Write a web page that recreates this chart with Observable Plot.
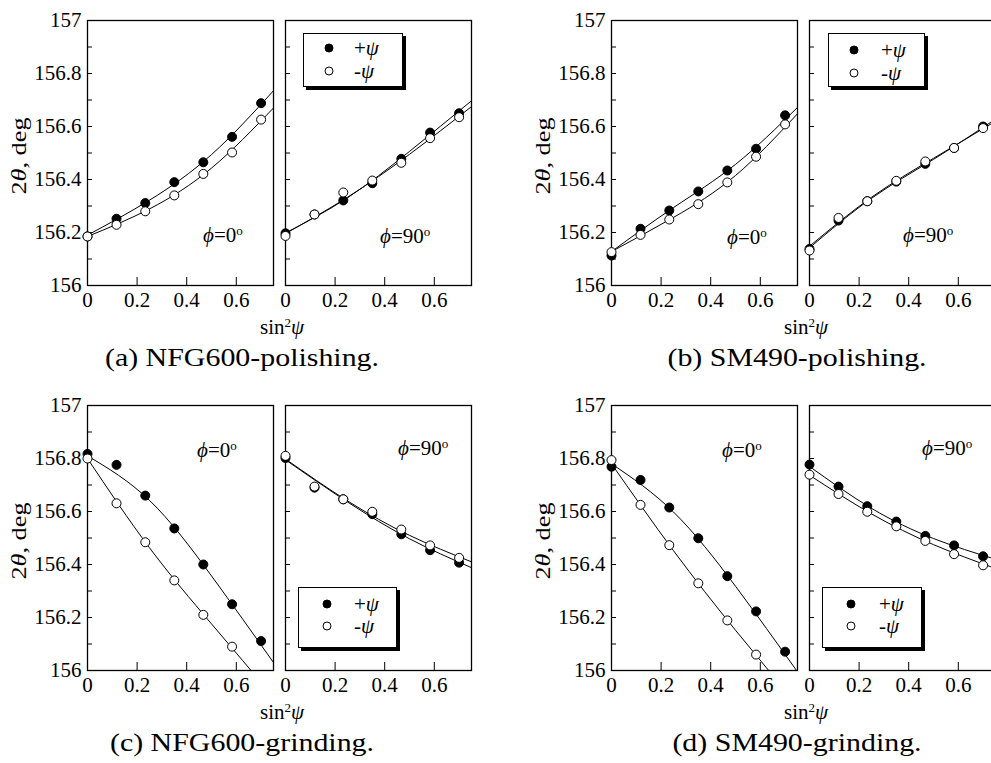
<!DOCTYPE html>
<html><head><meta charset="utf-8">
<script src="https://cdn.jsdelivr.net/npm/d3@7"></script>
<script src="https://cdn.jsdelivr.net/npm/@observablehq/plot@0.6"></script>
<style>
html,body{margin:0;padding:0;background:#fff;overflow:hidden}
#root{position:relative;width:991px;height:763px;overflow:hidden;font-family:"Liberation Serif","Times New Roman",serif;color:#000;background:#fff}
.abs{position:absolute}
.abs svg{max-width:none !important}
.t{position:absolute;white-space:nowrap;line-height:1}
.t sup{font-size:0.62em;vertical-align:0.55em;line-height:0}
.legend{position:absolute;border:1px solid #000;background:#fff;box-shadow:3px 3px 0 #000;box-sizing:border-box}
.legend .c{position:absolute;width:9px;height:9px;border-radius:50%;border:1px solid #000;box-sizing:border-box;transform:translate(-50%,-50%)}
.legend .lt{position:absolute;font-size:21px;line-height:1;transform:translateY(-50%);white-space:nowrap}
</style>
</head><body><div id="root"></div>
<script>
// ---- data ----
const sin2psi = [0, 0.117, 0.233, 0.35, 0.467, 0.583, 0.7];
const fitX = [0, 0.25, 0.5, 0.75];
const xTickVals = [0, 0.2, 0.4, 0.6];
const yTickVals = [156, 156.2, 156.4, 156.6, 156.8, 157];
const yMinorVals = [156.1, 156.2, 156.3, 156.4, 156.5, 156.6, 156.7, 156.8, 156.9];

// (a) NFG600-polishing
const a0Plus   = [156.185, 156.252, 156.311, 156.390, 156.465, 156.561, 156.688];
const a0Minus  = [156.185, 156.229, 156.280, 156.340, 156.421, 156.502, 156.626];
const a0PlusFit  = [156.190, 156.322, 156.494, 156.735];
const a0MinusFit = [156.185, 156.289, 156.443, 156.670];
const a90Plus  = [156.197, 156.268, 156.321, 156.386, 156.478, 156.577, 156.650];
const a90Minus = [156.187, 156.268, 156.351, 156.396, 156.463, 156.556, 156.635];
const a90PlusFit  = [156.198, 156.331, 156.506, 156.697];
const a90MinusFit = [156.196, 156.333, 156.495, 156.675];

// (b) SM490-polishing
const b0Plus   = [156.113, 156.214, 156.283, 156.355, 156.434, 156.516, 156.642];
const b0Minus  = [156.126, 156.191, 156.249, 156.307, 156.389, 156.486, 156.608];
const b0PlusFit  = [156.128, 156.294, 156.457, 156.672];
const b0MinusFit = [156.128, 156.257, 156.415, 156.648];
const b90Plus  = [156.138, 156.245, 156.318, 156.392, 156.459, 156.519, 156.600];
const b90Minus = [156.132, 156.255, 156.318, 156.395, 156.468, 156.519, 156.594];
const b90PlusFit  = [156.142, 156.329, 156.476, 156.628];
const b90MinusFit = [156.148, 156.333, 156.480, 156.620];

// (c) NFG600-grinding
const c0Plus   = [156.817, 156.776, 156.660, 156.536, 156.400, 156.250, 156.111];
const c0Minus  = [156.800, 156.631, 156.484, 156.340, 156.210, 156.090];
const c0PlusFit  = [156.810, 156.642, 156.357, 156.030];
const c0MinusFit = [156.800, 156.463, 156.176, 155.900];
const c90Plus  = [156.802, 156.690, 156.646, 156.590, 156.514, 156.454, 156.407];
const c90Minus = [156.810, 156.694, 156.646, 156.599, 156.532, 156.472, 156.425];
const c90PlusFit  = [156.795, 156.636, 156.497, 156.388];
const c90MinusFit = [156.798, 156.640, 156.510, 156.410];

// (d) SM490-grinding
const d0Plus   = [156.769, 156.719, 156.615, 156.499, 156.356, 156.223, 156.071];
const d0Minus  = [156.794, 156.625, 156.473, 156.329, 156.189, 156.060];
const d0PlusFit  = [156.780, 156.598, 156.318, 155.995];
const d0MinusFit = [156.780, 156.452, 156.152, 155.870];
const d90Plus  = [156.777, 156.694, 156.620, 156.562, 156.508, 156.472, 156.431];
const d90Minus = [156.739, 156.666, 156.599, 156.544, 156.489, 156.439, 156.397];
const d90PlusFit  = [156.770, 156.612, 156.498, 156.420];
const d90MinusFit = [156.737, 156.591, 156.475, 156.385];

const captions = ["(a) NFG600-polishing.", "(b) SM490-polishing.", "(c) NFG600-grinding.", "(d) SM490-grinding."];

// ---- layout ----
const FW = 186, FH = 265;
const FONT = '"Liberation Serif","Times New Roman",serif';
const root = document.getElementById("root");
const fmt = d => String(Math.round(d * 10) / 10);

function pts(xs, ys) { return ys.map((y, i) => ({x: xs[i], y})); }

function subplot(plus, minus, plusFit, minusFit, showY) {
  const mL = showY ? 87 : 12, mR = 8, mT = 10, mB = 34;
  const marks = [
    Plot.ruleY(yMinorVals, {stroke: "#000", strokeWidth: 1, insetRight: FW - 5}),
    Plot.ruleX(xTickVals.filter(v => v > 0), {stroke: "#000", strokeWidth: 1, insetTop: FH - 8}),
    Plot.line(pts(fitX, plusFit), {x: "x", y: "y", curve: "natural", stroke: "#000", strokeWidth: 1, clip: true}),
    Plot.line(pts(fitX, minusFit), {x: "x", y: "y", curve: "natural", stroke: "#000", strokeWidth: 1, clip: true}),
    Plot.frame({stroke: "#000", strokeWidth: 1.3}),
    Plot.dot(pts(sin2psi, plus), {x: "x", y: "y", r: 4.5, fill: "#000", stroke: "#000", strokeWidth: 1}),
    Plot.dot(pts(sin2psi, minus), {x: "x", y: "y", r: 4.5, fill: "#fff", stroke: "#000", strokeWidth: 1}),
    Plot.axisX(xTickVals, {tickSize: 0, tickPadding: 7, tickFormat: fmt, label: null})
  ];
  if (showY) marks.push(Plot.axisY(yTickVals, {tickSize: 0, tickPadding: 6, tickFormat: fmt, label: null}));
  const w = mL + FW + mR, h = mT + FH + mB;
  const svg = Plot.plot({
    width: w, height: h,
    marginLeft: mL, marginRight: mR, marginTop: mT, marginBottom: mB,
    style: {fontFamily: FONT, fontSize: "21px", background: "transparent", color: "#000", overflow: "visible", maxWidth: "none"},
    x: {domain: [0, 0.75], label: null},
    y: {domain: [156, 157], label: null, ...(showY ? {} : {axis: null})},
    marks
  });
  return {svg, mL, mT, w, h};
}

function place(s, left, top) {
  const d = document.createElement("div");
  d.className = "abs";
  Object.assign(d.style, {left: left + "px", top: top + "px", width: s.w + "px", height: s.h + "px"});
  d.appendChild(s.svg);
  root.appendChild(d);
}

function text(html, x, baseline, size, anchor = "start", extra = "") {
  const d = document.createElement("div");
  d.className = "t";
  d.style.fontSize = size + "px";
  d.style.left = x + "px";
  d.style.top = (baseline - 0.891 * size) + "px";
  let tf = anchor === "middle" ? "translateX(-50%)" : "";
  d.style.transform = tf + " " + extra;
  d.innerHTML = html;
  root.appendChild(d);
  return d;
}

function legend(left, top, w, h, cx, tx, r1, r2) {
  const L = document.createElement("div");
  L.className = "legend";
  Object.assign(L.style, {left: left + "px", top: top + "px", width: w + "px", height: h + "px", fontFamily: FONT});
  L.innerHTML =
    `<div class="c" style="left:${cx}px;top:${r1}px;background:#000"></div>` +
    `<div class="lt" style="left:${tx}px;top:${r1}px">+<i>ψ</i></div>` +
    `<div class="c" style="left:${cx}px;top:${r2}px;background:#fff"></div>` +
    `<div class="lt" style="left:${tx}px;top:${r2}px">-<i>ψ</i></div>`;
  root.appendChild(L);
}

const panels = [
  {L: 87, R: 285, T: 20, series: [[a0Plus, a0Minus, a0PlusFit, a0MinusFit], [a90Plus, a90Minus, a90PlusFit, a90MinusFit]],
   cap: captions[0], capX: 242, phi0: [203, 244], phi90: [380, 245], leg: [303, 33, 100, 54, 25, 50, 14, 37]},
  {L: 611, R: 809, T: 20, series: [[b0Plus, b0Minus, b0PlusFit, b0MinusFit], [b90Plus, b90Minus, b90PlusFit, b90MinusFit]],
   cap: captions[1], capX: 797, phi0: [727, 246], phi90: [903, 244], leg: [828, 33, 97, 54, 25, 52, 16, 39]},
  {L: 87, R: 285, T: 405, series: [[c0Plus, c0Minus, c0PlusFit, c0MinusFit], [c90Plus, c90Minus, c90PlusFit, c90MinusFit]],
   cap: captions[2], capX: 242, phi0: [197, 459], phi90: [398, 457], leg: [298, 587, 99, 61, 28, 55, 16, 38]},
  {L: 611, R: 809, T: 405, series: [[d0Plus, d0Minus, d0PlusFit, d0MinusFit], [d90Plus, d90Minus, d90PlusFit, d90MinusFit]],
   cap: captions[3], capX: 797, phi0: [722, 459], phi90: [922, 457], leg: [822, 587, 100, 61, 28, 56, 16, 38]}
];

for (const p of panels) {
  place(subplot(...p.series[0], true), p.L - 87, p.T - 10);
  place(subplot(...p.series[1], false), p.R - 12, p.T - 10);
  // y label
  const yl = text(`2<i>θ</i>, deg`, p.L - 68, p.T + 136 + 7, 21, "start");
  yl.style.transform = "translate(-50%,-50%) rotate(-90deg) scaleX(1.25)";
  yl.style.top = (p.T + 136) + "px";
  // x label
  text(`sin<sup>2</sup><i>ψ</i>`, (p.L + FW + p.R) / 2 + 3, p.T + FH + 51, 21, "middle");
  // annotations
  text(`<i>ϕ</i>=0<sup>o</sup>`, p.phi0[0], p.phi0[1], 21);
  text(`<i>ϕ</i>=90<sup>o</sup>`, p.phi90[0], p.phi90[1], 21);
  // legend
  legend(...p.leg);
  // caption
  text(p.cap, p.capX, p.T + FH + 83, 26, "middle", "scaleX(1.15)");
}
</script></body></html>
